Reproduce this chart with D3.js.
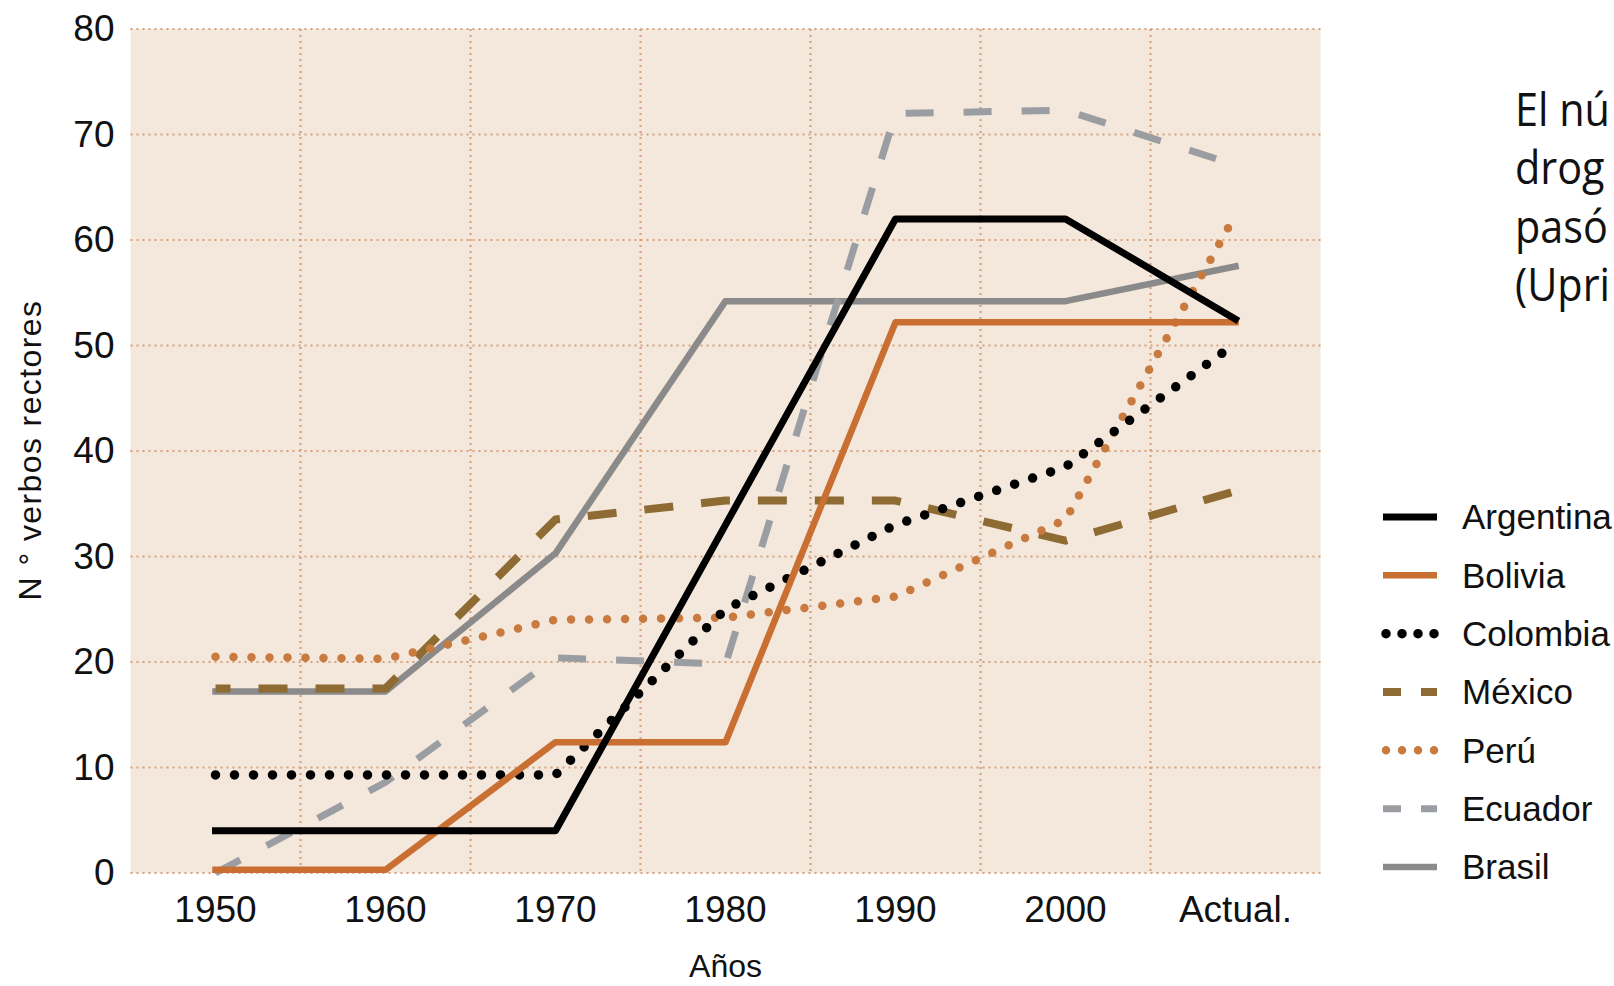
<!DOCTYPE html>
<html>
<head>
<meta charset="utf-8">
<script src="https://cdn.jsdelivr.net/npm/d3@7"></script>
<style>
  body { margin: 0; background: #fff; overflow: hidden; }
  svg { display: block; font-family: "Liberation Sans", Arial, sans-serif; }
</style>
</head>
<body>
<div id="viz"></div>
<script>
// categories and values
var years = ["1950", "1960", "1970", "1980", "1990", "2000", "Actual."];
var yTicks = [0, 10, 20, 30, 40, 50, 60, 70, 80];
var countries = ["Argentina", "Bolivia", "Colombia", "México", "Perú", "Ecuador", "Brasil"];

var argentina = [4, 4, 4, 33, 62, 62, 52.5];
var bolivia = [0.3, 0.3, 12.4, 12.4, 52.2, 52.2, 52.2];
var colombia = [9.3, 9.3, 9.3, 25, 33, 38.5, 50.2];
var mexico = [17.5, 17.5, 33.5, 35.3, 35.3, 31.5, 36.2];
var peru = [20.5, 20.3, 24, 24.2, 26.2, 33.5, 62.4];
var ecuador = [0, 8.6, 20.4, 19.8, 72, 72.3, 67.1];
var brasil = [17.2, 17.2, 30.3, 54.2, 54.2, 54.2, 57.5];

// slide text, only the part that shows before the right edge
var sideText = ["El nú", "drog", "pasó", "(Upri"];

var W = 1614, H = 986;
var plotLeft = 130.5, plotRight = 1320.5, plotTop = 29, plotBottom = 873;

// line styles, keyed by country
var styles = {
  "Argentina": { values: argentina, color: "#000000", width: 7, dash: null, cap: "square" },
  "Bolivia": { values: bolivia, color: "#c96f31", width: 6.5, dash: null, cap: "square" },
  "Colombia": { values: colombia, color: "#000000", width: 9.5, dash: "0,19", cap: "round" },
  "México": { values: mexico, color: "#8d6b33", width: 8, dash: "29,28", cap: "butt", offset: 14 },
  "Perú": { values: peru, color: "#c97a3f", width: 8.5, dash: "0,18", cap: "round" },
  "Ecuador": { values: ecuador, color: "#9a9ea3", width: 7, dash: "28,30", cap: "butt" },
  "Brasil": { values: brasil, color: "#8a8a8a", width: 6.5, dash: null, cap: "square" }
};
var drawOrder = ["Brasil", "Ecuador", "México", "Perú", "Colombia", "Bolivia", "Argentina"];

var svg = d3.select("#viz").append("svg").attr("width", W).attr("height", H);

var x = d3.scaleBand().domain(years).range([plotLeft, plotRight]);
var y = d3.scaleLinear().domain([0, 80]).range([plotBottom, plotTop]);
var cx = function (c) { return x(c) + x.bandwidth() / 2; };

svg.append("rect")
  .attr("x", plotLeft)
  .attr("y", plotTop)
  .attr("width", plotRight - plotLeft)
  .attr("height", plotBottom - plotTop)
  .attr("fill", "#f4e7db");

// dotted grid
var grid = svg.append("g")
  .attr("stroke", "#d6a27c")
  .attr("stroke-width", 2.2)
  .attr("stroke-dasharray", "2,4");

grid.selectAll("line.h").data(yTicks).enter().append("line")
  .attr("class", "h")
  .attr("x1", plotLeft).attr("x2", plotRight)
  .attr("y1", function (d) { return y(d); })
  .attr("y2", function (d) { return y(d); });

grid.selectAll("line.v").data(years.slice(1)).enter().append("line")
  .attr("class", "v")
  .attr("x1", function (d) { return x(d); })
  .attr("x2", function (d) { return x(d); })
  .attr("y1", plotTop).attr("y2", plotBottom);

// axes
var yAxis = svg.append("g")
  .attr("transform", "translate(" + plotLeft + ",0)")
  .call(d3.axisLeft(y).tickValues(yTicks).tickSize(0).tickPadding(16));
yAxis.select(".domain").remove();
yAxis.selectAll("text").style("font-size", "37px").attr("fill", "#111");

var xAxis = svg.append("g")
  .attr("transform", "translate(0," + plotBottom + ")")
  .call(d3.axisBottom(x).tickSize(0).tickPadding(23));
xAxis.select(".domain").remove();
xAxis.selectAll("text").style("font-size", "37px").attr("fill", "#111");

svg.append("text")
  .attr("transform", "translate(41,450) rotate(-90)")
  .attr("text-anchor", "middle")
  .style("font-size", "32px")
  .style("letter-spacing", "1.4px")
  .attr("fill", "#111")
  .text("N ° verbos rectores");

svg.append("text")
  .attr("x", cx("1980"))
  .attr("y", 977)
  .attr("text-anchor", "middle")
  .style("font-size", "32px")
  .attr("fill", "#111")
  .text("Años");

// series
var line = d3.line()
  .x(function (d, i) { return cx(years[i]); })
  .y(function (d) { return y(d); });

drawOrder.forEach(function (name) {
  var s = styles[name];
  svg.append("path")
    .datum(s.values)
    .attr("d", line)
    .attr("fill", "none")
    .attr("stroke", s.color)
    .attr("stroke-width", s.width)
    .attr("stroke-linecap", s.cap)
    .attr("stroke-linejoin", "round")
    .attr("stroke-dasharray", s.dash)
    .attr("stroke-dashoffset", s.offset || 0);
});

// legend
var legend = svg.append("g");
var rowY = d3.scalePoint().domain(countries).range([517, 867]);
countries.forEach(function (name) {
  var s = styles[name];
  var ly = rowY(name);
  var legendDash = null;
  if (s.cap === "butt") legendDash = "18,20";
  if (s.cap === "round") legendDash = "0,16";
  legend.append("line")
    .attr("x1", s.cap === "round" ? 1386 : 1383)
    .attr("x2", s.cap === "round" ? 1436 : 1437)
    .attr("y1", ly).attr("y2", ly)
    .attr("stroke", s.color)
    .attr("stroke-width", s.width)
    .attr("stroke-linecap", s.cap === "square" ? "butt" : s.cap)
    .attr("stroke-dasharray", legendDash);
  legend.append("text")
    .attr("x", 1462)
    .attr("y", ly)
    .attr("dy", "0.35em")
    .style("font-size", "35px")
    .attr("fill", "#111")
    .text(name);
});

// slide text at the right edge
var side = svg.append("g")
  .attr("transform", "translate(1515,0) scale(0.92,1)")
  .style("font-family", "'Open Sans', 'Noto Sans', sans-serif")
  .style("font-size", "45px")
  .attr("fill", "#111");
side.selectAll("text").data(sideText).enter().append("text")
  .attr("x", 0)
  .attr("y", function (d, i) { return 126 + i * 58.5; })
  .text(function (d) { return d; });
</script>
</body>
</html>
